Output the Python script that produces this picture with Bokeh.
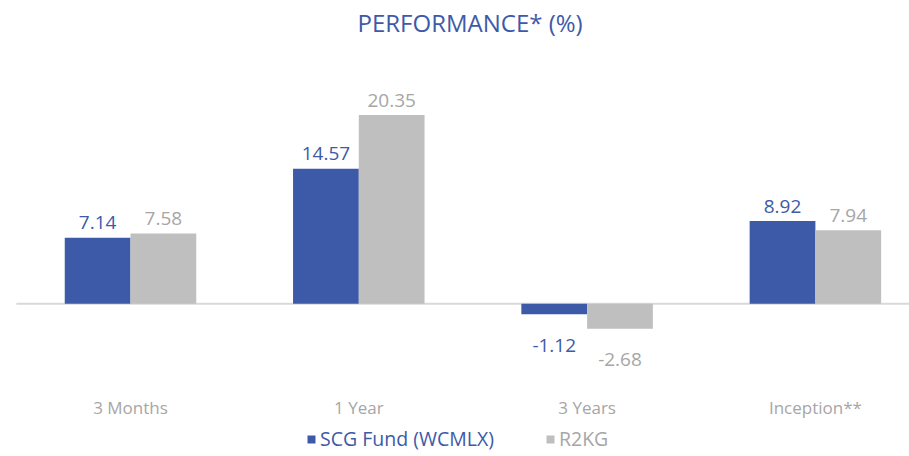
import numpy as np
from bokeh.plotting import figure
from bokeh.models import Range1d, Legend, LegendItem, ColumnDataSource
from bokeh.core.properties import value
from bokeh.embed import file_html
from bokeh.resources import INLINE

categories = ["3 Months", "1 Year", "3 Years", "Inception**"]
fund_name = "SCG Fund (WCMLX)"
bench_name = "R2KG"
fund_values = [7.14, 14.57, -1.12, 8.92]
bench_values = [7.58, 20.35, -2.68, 7.94]

BLUE = "#3D5AA8"
GRAY = "#BFBFBF"
GRAY_TXT = "#A6A6A6"
FONT = "Open Sans"

W, H = 909, 456
TITLE_H = 40          # approximate height of the title panel
BASE_PX = 303         # pixel row of zero line
PX_PER_UNIT = 9.3
CAT_PX = 228.3
FIRST_CENTER_PX = 130

ymax = (BASE_PX - TITLE_H) / PX_PER_UNIT
ymin = -(H - BASE_PX) / PX_PER_UNIT
xstart = 0.5 - FIRST_CENTER_PX / CAT_PX
xend = xstart + W / CAT_PX

centers = np.arange(len(categories)) + 0.5
bw = 0.288

src = ColumnDataSource(dict(
    cat=categories,
    xf=centers - bw / 2,
    xb=centers + bw / 2,
    xc=centers,
    fund=fund_values,
    bench=bench_values,
    fund_lbl=[f"{v:.2f}" for v in fund_values],
    bench_lbl=[f"{v:.2f}" for v in bench_values],
    fund_off=[-15 if v >= 0 else 31 for v in fund_values],
    bench_off=[-15 if v >= 0 else 31 for v in bench_values],
    zero=[0] * len(categories),
))

p = figure(width=W, height=H, output_backend="svg", toolbar_location=None,
           x_range=Range1d(xstart, xend), y_range=Range1d(ymin, ymax),
           min_border=0, min_border_left=0, min_border_right=0, min_border_bottom=0,
           min_border_top=0, title="PERFORMANCE* (%)")
p.title.align = "left"
p.title.text_color = BLUE
p.title.text_font = FONT
p.title.text_font_style = "normal"
p.title.text_font_size = "24px"
p.title.offset = 357
p.title.standoff = 6
p.axis.visible = False
p.grid.visible = False
p.outline_line_color = None
p.background_fill_color = "white"
p.border_fill_color = "white"

# zero line
p.segment(x0=0, y0=0, x1=xend, y1=0, line_color="#D9D9D9", line_width=2)

r_fund = p.vbar(x="xf", top="fund", bottom=0, width=bw, source=src,
                fill_color=BLUE, line_color=None)
r_bench = p.vbar(x="xb", top="bench", bottom=0, width=bw, source=src,
                 fill_color=GRAY, line_color=None)

p.text(x="xf", y="fund", text="fund_lbl", y_offset="fund_off", source=src,
       text_align="center", text_baseline="alphabetic", text_color=BLUE,
       text_font=value(FONT), text_font_size="19px")
p.text(x="xb", y="bench", text="bench_lbl", y_offset="bench_off", source=src,
       text_align="center", text_baseline="alphabetic", text_color=GRAY_TXT,
       text_font=value(FONT), text_font_size="19px")

# category labels
p.text(x="xc", y="zero", text="cat", y_offset=104, source=src,
       text_align="center", text_baseline="alphabetic", text_color=GRAY_TXT,
       text_font=value(FONT), text_font_size="17px")

common = dict(orientation="horizontal", padding=0, margin=0, spacing=0,
              glyph_width=10, glyph_height=10, label_standoff=4,
              border_line_color=None, background_fill_alpha=0,
              label_text_font=FONT, label_text_font_size="19.5px",
              label_height=18)
leg1 = Legend(items=[LegendItem(label=fund_name, renderers=[r_fund])],
              location=(306, 4), label_text_color=BLUE, **common)
leg2 = Legend(items=[LegendItem(label=bench_name, renderers=[r_bench])],
              location=(545, 4), label_text_color=GRAY_TXT, **common)
p.add_layout(leg1, "center")
p.add_layout(leg2, "center")

open("out.html", "w").write(file_html(p, INLINE))
